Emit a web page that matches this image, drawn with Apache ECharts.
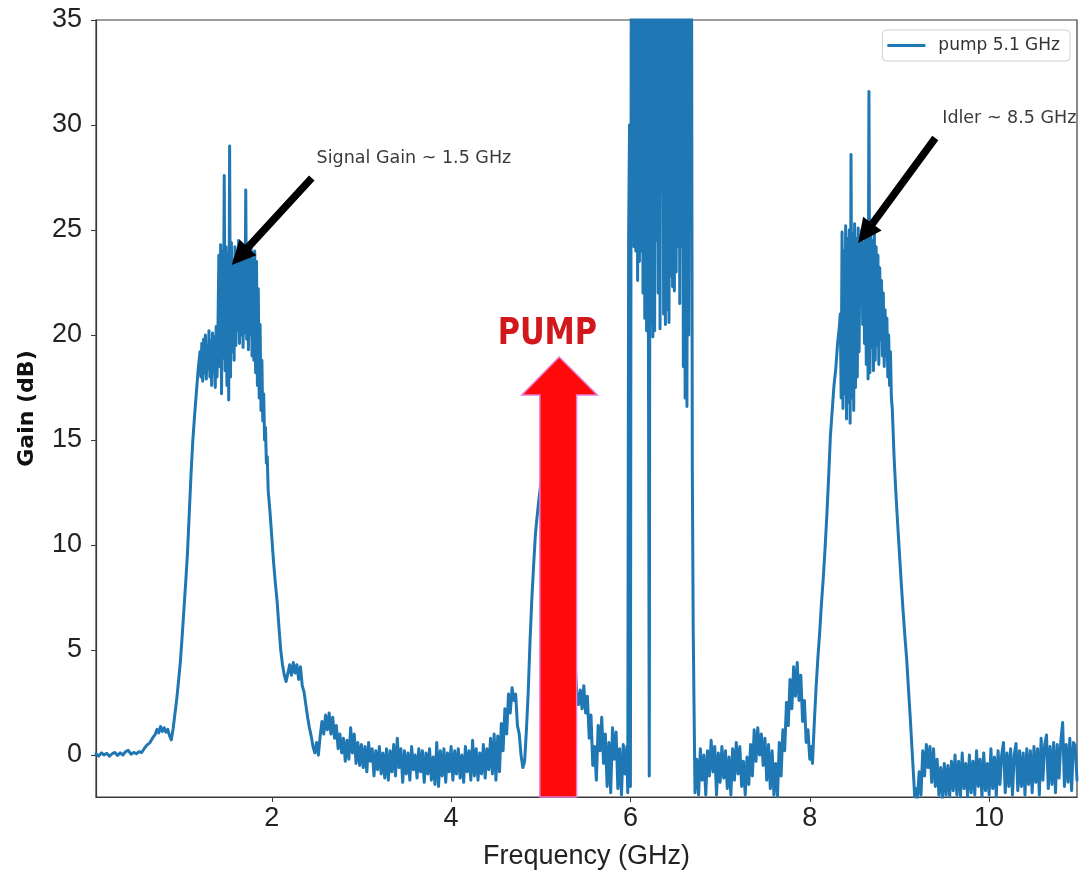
<!DOCTYPE html>
<html>
<head>
<meta charset="utf-8">
<script src="https://cdn.jsdelivr.net/npm/echarts@6.0.0/dist/echarts.min.js"></script>
<style>
  html, body { margin: 0; padding: 0; background: #ffffff; }
  #chart { width: 1081px; height: 875px; }
</style>
</head>
<body>
<div id="chart"></div>
<script>
// Parametric amplifier gain sweep, pump at 5.1 GHz. Pairs are [frequency GHz, gain dB].
const baselineLow = [
  [0.04,0.05],[0.07,-0.05],[0.10,0.10],[0.13,0.0],[0.16,0.08],[0.19,-0.06],[0.22,0.06],[0.25,0.12],
  [0.28,-0.02],[0.31,0.10],[0.34,0.0],[0.37,0.16],[0.40,0.22],[0.43,0.04],[0.46,0.12],[0.49,0.06],
  [0.52,0.16],[0.55,0.12],[0.58,0.32],[0.61,0.48],[0.64,0.58],[0.67,0.80],[0.70,0.98],[0.72,1.22],
  [0.74,1.05],[0.76,1.36],[0.78,1.12],[0.80,1.30],[0.82,1.08],[0.84,1.22],[0.86,0.92],[0.88,0.72],
  [0.90,1.25],[0.92,1.95],[0.94,2.65],[0.96,3.50],[0.98,4.40],[1.00,5.60],[1.02,6.90],[1.04,8.20]
];
const signalPeak = [
  [1.06,9.6],[1.08,11.5],[1.10,13.4],[1.12,15.0],[1.14,16.2],[1.16,17.3],[1.18,18.4],[1.20,19.2],
  [1.21,18.0],[1.22,19.6],[1.23,17.8],[1.24,19.8],[1.25,18.2],[1.26,20.0],[1.27,17.9],[1.28,19.5],
  [1.29,18.4],[1.30,20.2],[1.31,18.0],[1.32,19.7],[1.33,17.6],[1.34,20.1],[1.35,18.3],[1.36,19.9],
  [1.37,17.5],[1.38,20.4],[1.39,18.0],[1.40,20.3],[1.41,23.8],[1.42,18.5],[1.43,24.3],[1.44,17.2],
  [1.45,24.0],[1.46,18.9],[1.47,27.6],[1.48,18.3],[1.49,24.2],[1.50,17.6],[1.51,23.9],[1.52,16.9],
  [1.53,29.0],[1.54,18.0],[1.55,24.4],[1.56,19.2],[1.57,23.6],[1.58,18.8],[1.59,24.2],[1.60,19.5],
  [1.61,23.8],[1.62,20.2],[1.63,24.5],[1.64,19.6],[1.65,23.9],[1.66,20.0],[1.67,24.3],[1.68,19.4],
  [1.69,23.7],[1.70,20.1],[1.71,26.9],[1.72,19.8],[1.73,24.1],[1.74,19.3],[1.75,23.8],[1.76,20.0],
  [1.77,24.4],[1.78,19.0],[1.79,23.6],[1.80,18.8],[1.81,24.0],[1.82,18.2],[1.83,23.5],[1.84,17.6],
  [1.85,22.2],[1.86,17.0],[1.87,20.5],[1.88,16.4],[1.89,18.8],[1.90,15.9],[1.91,17.2],[1.92,15.0],
  [1.93,15.6],[1.94,13.9],[1.95,14.2],[1.96,12.6],[1.98,11.6],[2.00,10.4],[2.02,9.2],[2.04,8.2],
  [2.06,7.3],[2.08,6.1],[2.10,5.0],[2.12,4.3],[2.14,3.8],[2.16,3.5],[2.18,3.9],[2.20,4.3],
  [2.22,3.8],[2.24,4.4],[2.26,3.9],[2.28,4.3],[2.30,3.6],[2.32,4.2],[2.34,3.3],[2.36,3.0],
  [2.38,2.4],[2.40,1.8]
];
const midBand = [
  [2.42,1.3],[2.44,0.9],[2.46,0.4],[2.48,0.1],[2.50,0.6],[2.52,0.0],[2.54,0.9],[2.56,1.6],
  [2.58,1.0],[2.60,1.9],[2.62,1.2],[2.64,2.0],[2.66,1.0],[2.68,1.8],[2.70,0.8],[2.72,1.4],
  [2.74,0.3],[2.76,1.0],[2.78,0.1],[2.80,0.8],[2.82,-0.3],[2.84,0.7],[2.86,-0.2],[2.88,1.3],
  [2.90,0.1],[2.92,1.0],[2.94,-0.4],[2.96,0.6],[2.98,-0.5],[3.00,0.5],[3.02,-0.6],[3.04,0.4],
  [3.06,-0.8],[3.08,0.6],[3.10,-0.3],[3.12,0.3],[3.14,-1.0],[3.16,0.2],[3.18,-0.7],[3.20,0.4],
  [3.22,-0.9],[3.24,0.1],[3.26,-1.1],[3.28,0.3],[3.30,-1.2],[3.32,0.2],[3.34,-0.8],[3.36,0.5],
  [3.38,-1.0],[3.40,0.8],[3.42,-0.6],[3.44,0.3],[3.46,-1.3],[3.48,0.2],[3.50,-0.9],[3.52,0.1],
  [3.54,-1.2],[3.56,0.4],[3.58,-0.7],[3.60,0.0],[3.62,-1.1],[3.64,0.3],[3.66,-0.8],[3.68,0.2],
  [3.70,-1.3],[3.72,0.1],[3.74,-0.9],[3.76,0.3],[3.78,-1.2],[3.80,-0.1],[3.82,-1.4],[3.84,0.6],
  [3.86,-1.5],[3.88,0.2],[3.90,-1.0],[3.92,0.3],[3.94,-1.3],[3.96,0.1],[3.98,-0.8],[4.00,0.4],
  [4.02,-1.2],[4.04,0.2],[4.06,-0.9],[4.08,0.3],[4.10,-1.1],[4.12,0.0],[4.14,-1.3],[4.16,0.4],
  [4.18,-0.8],[4.20,0.2],[4.22,-1.2],[4.24,0.7],[4.26,-1.0],[4.28,0.3],[4.30,-1.2],[4.32,0.1],
  [4.34,-0.9],[4.36,0.5],[4.38,-1.1],[4.40,0.3],[4.42,-0.7],[4.44,0.8],[4.46,-0.9],[4.48,1.0],
  [4.50,-1.2]
];
const pumpSkirt = [
  [4.52,0.9],[4.54,-0.8],[4.56,1.5],[4.58,0.2],[4.60,2.2],[4.62,1.0],[4.64,2.9],[4.66,2.0],
  [4.68,3.2],[4.70,2.6],[4.72,2.9],[4.74,1.4],[4.76,1.0],[4.78,0.0],[4.80,-0.6],[4.82,-0.3],
  [4.84,1.2],[4.86,3.0],[4.88,5.4],[4.90,7.4],[4.92,9.0],[4.94,10.5],[4.96,11.4],[4.98,12.2],
  [5.00,12.9],[5.06,14.6],[5.14,15.5],[5.22,14.2],[5.30,10.4],[5.36,6.2],[5.40,3.0],[5.42,2.4],
  [5.44,3.1],[5.46,2.2],[5.48,3.3],[5.50,2.0],[5.52,2.8],[5.54,0.8],[5.56,1.9],[5.58,-0.5],
  [5.60,0.4],[5.62,-1.2],[5.64,1.4],[5.66,0.2],[5.68,1.8],[5.70,-0.4],[5.72,1.0],[5.74,-1.5],
  [5.76,0.6],[5.78,-1.8],[5.80,1.3],[5.82,-0.2],[5.84,1.1],[5.86,-1.6],[5.88,0.3],[5.90,-1.9],
  [5.92,0.5],[5.94,-0.9],[5.96,0.4],[5.97,-1.8]
];
const pumpTone = [
  [5.98,24.8],[5.99,30.0],[6.00,-1.5],[6.01,42],[6.02,24.9],[6.03,42],[6.04,24.2],[6.05,42],
  [6.06,24.0],[6.07,42],[6.08,22.6],[6.09,42],[6.10,23.5],[6.11,42],[6.12,24.0],[6.13,42],
  [6.14,22.0],[6.15,42],[6.16,20.8],[6.17,42],[6.18,20.2],[6.19,42],[6.20,21.0],[6.21,-1.0],
  [6.22,42],[6.23,20.6],[6.24,42],[6.25,19.9],[6.26,42],[6.27,20.2],[6.28,42],[6.29,24.5],
  [6.30,42],[6.31,22.0],[6.32,42],[6.33,20.3],[6.34,42],[6.35,26.8],[6.36,42],[6.37,21.0],
  [6.38,42],[6.39,20.5],[6.40,42],[6.41,21.2],[6.42,42],[6.43,20.6],[6.44,42],[6.45,22.8],
  [6.46,42],[6.47,22.3],[6.48,42],[6.49,22.1],[6.50,42],[6.51,23.0],[6.52,42],[6.53,24.2],
  [6.54,42],[6.55,21.5],[6.56,42],[6.57,24.2],[6.58,42],[6.59,18.5],[6.60,42],[6.61,17.0],
  [6.62,42],[6.63,16.6],[6.64,42],[6.65,20.0],[6.66,42],[6.67,25.6],[6.68,42],[6.69,13.7]
];
const idlerSkirt = [
  [6.70,6.0],[6.71,2.0],[6.72,-1.8],[6.74,-0.2],[6.76,-1.9],[6.78,0.3],[6.80,-1.2],[6.82,0.0],
  [6.84,-1.9],[6.86,0.2],[6.88,-1.0],[6.90,0.7],[6.92,-0.8],[6.94,0.4],[6.96,-1.9],[6.98,0.1],
  [7.00,-1.3],[7.02,0.4],[7.04,-1.1],[7.06,0.2],[7.08,-1.6],[7.10,-0.1],[7.12,-1.9],[7.14,0.3],
  [7.16,-1.2],[7.18,0.6],[7.20,-0.9],[7.22,0.4],[7.24,-1.5],[7.26,-0.3],[7.28,-1.9],[7.30,-0.1],
  [7.32,-1.4],[7.34,0.5],[7.36,-1.0],[7.38,1.2],[7.40,-0.3],[7.42,1.3],[7.44,0.0],[7.46,1.0],
  [7.48,-0.5],[7.50,0.8],[7.52,-1.2],[7.54,0.5],[7.56,-1.6],[7.58,0.2],[7.60,-1.9],[7.62,-0.4],
  [7.64,-2.0],[7.66,0.6],[7.68,-1.0],[7.70,1.2],[7.72,0.2],[7.74,2.5],[7.76,1.4],[7.78,3.6],
  [7.80,2.2],[7.82,4.2],[7.84,2.8],[7.86,4.4],[7.88,2.6],[7.90,3.8],[7.92,1.6],[7.94,2.6],
  [7.96,0.6],[7.98,1.2],[8.00,-0.2],[8.02,0.4],[8.03,-0.4],[8.05,1.5],[8.07,3.2],[8.09,4.6],
  [8.11,5.8],[8.13,7.2],[8.15,8.4],[8.17,9.8],[8.19,11.4],[8.21,13.2],[8.23,15.2],[8.25,16.4],
  [8.27,17.6],[8.29,18.4],[8.31,19.6],[8.33,20.4]
];
const idlerPeak = [
  [8.34,21.0],[8.35,17.0],[8.36,24.9],[8.37,16.5],[8.38,24.0],[8.39,17.2],[8.40,25.2],[8.41,16.0],
  [8.42,24.6],[8.43,16.8],[8.44,25.0],[8.45,15.8],[8.46,28.6],[8.47,17.0],[8.48,24.8],[8.49,16.4],
  [8.50,25.3],[8.51,17.5],[8.52,24.6],[8.53,18.0],[8.54,25.1],[8.55,19.2],[8.56,24.7],[8.57,21.8],
  [8.58,25.0],[8.59,20.5],[8.60,24.4],[8.61,19.6],[8.62,25.2],[8.63,18.6],[8.64,24.8],[8.65,17.9],
  [8.66,31.6],[8.67,18.2],[8.68,24.9],[8.69,19.4],[8.70,24.5],[8.71,18.3],[8.72,25.0],[8.73,18.8],
  [8.74,24.2],[8.75,19.5],[8.76,23.8],[8.77,18.6],[8.78,23.2],[8.79,19.8],[8.80,22.6],[8.81,19.0],
  [8.82,22.0],[8.83,18.5],[8.84,21.2],[8.85,19.0],[8.86,20.8],[8.87,18.0],[8.88,20.0],[8.89,17.6],
  [8.90,19.2],[8.91,17.0],[8.92,16.5],[8.94,14.2],[8.96,12.5],[8.98,11.0],[9.00,9.6],[9.02,8.2],
  [9.04,6.9],[9.06,5.7],[9.08,4.6],[9.10,3.2],[9.12,1.8],[9.14,0.3],[9.16,-1.2],[9.17,-2.0]
];
const highBand = [
  [9.18,-1.6],[9.20,-2.1],[9.22,-0.8],[9.24,-1.9],[9.26,0.2],[9.28,-1.0],[9.30,0.5],[9.32,-0.6],
  [9.34,0.4],[9.36,-1.3],[9.38,0.3],[9.40,-1.5],[9.42,-0.2],[9.44,-1.9],[9.46,-0.6],[9.48,-2.1],
  [9.50,-0.4],[9.52,-1.9],[9.54,-0.5],[9.56,-2.0],[9.58,-0.3],[9.60,-1.7],[9.62,0.0],[9.64,-1.9],
  [9.66,-0.3],[9.68,-2.0],[9.70,0.1],[9.72,-1.6],[9.74,-0.4],[9.76,-2.0],[9.78,0.0],[9.80,-1.8],
  [9.82,-0.3],[9.84,-1.9],[9.86,0.2],[9.88,-1.5],[9.90,-0.2],[9.92,-2.0],[9.94,0.1],[9.96,-1.7],
  [9.98,-0.4],[10.00,-1.9],[10.02,0.3],[10.04,-1.6],[10.06,-0.1],[10.08,-2.0],[10.10,0.2],[10.12,-1.4],
  [10.14,0.0],[10.16,0.6],[10.18,-1.8],[10.20,0.1],[10.22,-1.5],[10.24,0.3],[10.26,-1.9],[10.28,0.0],
  [10.30,0.55],[10.32,-1.7],[10.34,0.2],[10.36,-1.5],[10.38,0.1],[10.40,-1.9],[10.42,0.3],[10.44,-1.4],
  [10.46,0.2],[10.48,-1.8],[10.50,0.4],[10.52,-1.3],[10.54,0.3],[10.56,-1.9],[10.58,0.8],[10.60,-1.2],
  [10.62,0.5],[10.64,0.95],[10.66,-1.6],[10.68,0.4],[10.70,-1.4],[10.72,0.6],[10.74,-1.8],[10.76,0.5],
  [10.78,-1.1],[10.80,0.7],[10.82,1.55],[10.84,-1.5],[10.86,0.5],[10.88,-1.3],[10.90,0.8],[10.92,-1.7],
  [10.94,0.6],[10.96,0.45],[10.98,-1.2]
];

const seriesName = 'pump 5.1 GHz';
const xTickValues = [2, 4, 6, 8, 10];
const yTickValues = [0, 5, 10, 15, 20, 25, 30, 35];

// Callouts, anchored in [GHz, dB]
const noteLabels = ['Signal Gain ~ 1.5 GHz', 'Idler ~ 8.5 GHz'];
const noteTextAt = [[2.50, 28.43], [9.477, 30.33]];
const noteArrowTail = [[2.446, 27.48], [9.40, 29.38]];
const noteArrowTip = [[1.554, 23.33], [8.54, 24.38]];

// Pump marker: shaft edges, head edges, head base, tip, label
const pumpLabel = 'PUMP';
const pumpShaftGHz = [4.99, 5.40];
const pumpHeadGHz = [4.79, 5.63];
const pumpHeadBaseDb = 17.14;
const pumpTip = [5.205, 18.95];
const pumpLabelAt = [5.074, 20.05];

const gainTrace = [].concat(baselineLow, signalPeak, midBand, pumpSkirt, pumpTone, idlerSkirt, idlerPeak, highBand);

const X_MIN = 0.04, X_MAX = 10.98, Y_MIN = -2, Y_MAX = 35;

function arrowPolygon(p0, p1, shaftW, headL, headW) {
  const dx = p1[0] - p0[0], dy = p1[1] - p0[1];
  const len = Math.hypot(dx, dy);
  const ux = dx / len, uy = dy / len;
  const nx = -uy, ny = ux;
  const bx = p1[0] - ux * headL, by = p1[1] - uy * headL;
  const s = shaftW / 2, h = headW / 2;
  return [
    [p0[0] + nx * s, p0[1] + ny * s],
    [bx + nx * s, by + ny * s],
    [bx + nx * h, by + ny * h],
    [p1[0], p1[1]],
    [bx - nx * h, by - ny * h],
    [bx - nx * s, by - ny * s],
    [p0[0] - nx * s, p0[1] - ny * s]
  ];
}

const chart = echarts.init(document.getElementById('chart'), null, { renderer: 'canvas' });

const axisFont = '"Liberation Sans", Arial, sans-serif';
const frameColor = '#3a3a3a';

chart.setOption({
  animation: false,
  backgroundColor: '#ffffff',
  grid: {
    left: 96, right: 4, top: 20, bottom: 78,
    show: true, borderColor: frameColor, borderWidth: 1.2, backgroundColor: 'transparent',
    containLabel: false, outerBoundsMode: 'none'
  },
  legend: {
    data: [seriesName],
    right: 11, top: 30,
    orient: 'vertical',
    icon: 'rect',
    itemWidth: 38, itemHeight: 3,
    padding: [7, 10, 7, 5],
    borderColor: '#d0d0d0', borderWidth: 1, borderRadius: 4,
    backgroundColor: 'rgba(255,255,255,0.85)',
    textStyle: { fontFamily: '"DejaVu Sans", sans-serif', fontSize: 17, color: '#333', padding: [0, 0, 0, 8] }
  },
  xAxis: {
    type: 'value', min: X_MIN, max: X_MAX,
    name: 'Frequency (GHz)', nameLocation: 'middle', nameGap: 46,
    nameTextStyle: { fontFamily: axisFont, fontSize: 27, color: '#222' },
    axisLine: { show: true, onZero: false, lineStyle: { color: frameColor, width: 1.2 } },
    splitLine: { show: false },
    axisTick: { show: true, inside: false, length: 5, lineStyle: { color: frameColor, width: 1 }, customValues: xTickValues },
    axisLabel: { show: true, margin: 8, fontFamily: axisFont, fontSize: 27, color: '#222', customValues: xTickValues }
  },
  yAxis: {
    type: 'value', min: Y_MIN, max: Y_MAX,
    name: 'Gain (dB)', nameLocation: 'middle', nameGap: 58, nameRotate: 90,
    nameTextStyle: { fontFamily: '"DejaVu Sans", sans-serif', fontSize: 22, fontWeight: 'bold', color: '#111' },
    axisLine: { show: true, onZero: false, lineStyle: { color: frameColor, width: 1.2 } },
    splitLine: { show: false },
    axisTick: { show: true, inside: false, length: 5, lineStyle: { color: frameColor, width: 1 }, customValues: yTickValues },
    axisLabel: { show: true, margin: 14, fontFamily: axisFont, fontSize: 27, color: '#222', customValues: yTickValues }
  },
  series: [
    {
      name: seriesName,
      type: 'line',
      data: gainTrace,
      symbol: 'none',
      showSymbol: false,
      clip: true,
      z: 2,
      lineStyle: { color: '#1f77b4', width: 3, join: 'round', cap: 'round' },
      itemStyle: { color: '#1f77b4' }
    },
    {
      name: 'pump marker',
      type: 'custom',
      coordinateSystem: 'cartesian2d',
      data: [[pumpTip[0], pumpTip[1]]],
      z: 6,
      silent: true,
      renderItem: function (params, api) {
        const c = (p) => api.coord(p);
        const pts = [
          c([pumpShaftGHz[0], Y_MIN]),
          c([pumpShaftGHz[0], pumpHeadBaseDb]),
          c([pumpHeadGHz[0], pumpHeadBaseDb]),
          c(pumpTip),
          c([pumpHeadGHz[1], pumpHeadBaseDb]),
          c([pumpShaftGHz[1], pumpHeadBaseDb]),
          c([pumpShaftGHz[1], Y_MIN])
        ];
        const lp = c(pumpLabelAt);
        return {
          type: 'group',
          children: [
            { type: 'polygon', shape: { points: pts }, style: { fill: '#ff0a0a', stroke: '#e27ad6', lineWidth: 1.5 } },
            {
              type: 'text', x: lp[0], y: lp[1], scaleX: 0.8,
              style: { text: pumpLabel, fill: '#d2181c', font: 'bold 38px "DejaVu Sans", sans-serif', align: 'center', verticalAlign: 'middle' }
            }
          ]
        };
      }
    },
    {
      name: 'callouts',
      type: 'custom',
      coordinateSystem: 'cartesian2d',
      data: noteLabels.map((t, i) => [noteTextAt[i][0], noteTextAt[i][1], i]),
      z: 7,
      silent: true,
      renderItem: function (params, api) {
        const i = params.dataIndex;
        const tail = api.coord(noteArrowTail[i]);
        const tip = api.coord(noteArrowTip[i]);
        const at = api.coord(noteTextAt[i]);
        return {
          type: 'group',
          children: [
            { type: 'polygon', shape: { points: arrowPolygon(tail, tip, 7.5, 24, 23) }, style: { fill: '#000000' } },
            {
              type: 'text', x: at[0], y: at[1],
              style: { text: noteLabels[i], fill: '#3a3a3a', font: '17.5px "DejaVu Sans", sans-serif', align: 'left', verticalAlign: 'middle' }
            }
          ]
        };
      }
    }
  ]
});
</script>
</body>
</html>
